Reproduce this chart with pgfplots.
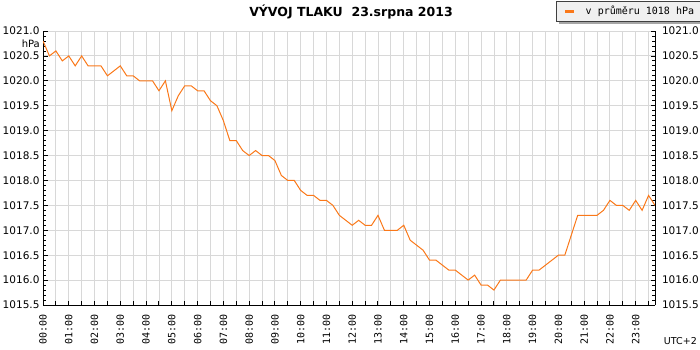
\documentclass[border=0pt]{standalone}
\usepackage{fontspec}
\setmainfont{DejaVu Sans}
\newfontfamily\mono{DejaVu Sans Mono}
\usepackage{pgfplots}
\usepackage{pgfplotstable}
\pgfplotsset{compat=1.18}
\definecolor{lineor}{RGB}{250,120,25}
\definecolor{gridc}{RGB}{216,216,216}
\definecolor{legbg}{RGB}{240,240,240}
\pgfplotstableread{
h p
0.00 1020.8
0.25 1020.5
0.50 1020.6
0.75 1020.4
1.00 1020.5
1.25 1020.3
1.50 1020.5
1.75 1020.3
2.00 1020.3
2.25 1020.3
2.50 1020.1
2.75 1020.2
3.00 1020.3
3.25 1020.1
3.50 1020.1
3.75 1020.0
4.00 1020.0
4.25 1020.0
4.50 1019.8
4.75 1020.0
5.00 1019.4
5.25 1019.7
5.50 1019.9
5.75 1019.9
6.00 1019.8
6.25 1019.8
6.50 1019.6
6.75 1019.5
7.00 1019.2
7.25 1018.8
7.50 1018.8
7.75 1018.6
8.00 1018.5
8.25 1018.6
8.50 1018.5
8.75 1018.5
9.00 1018.4
9.25 1018.1
9.50 1018.0
9.75 1018.0
10.00 1017.8
10.25 1017.7
10.50 1017.7
10.75 1017.6
11.00 1017.6
11.25 1017.5
11.50 1017.3
11.75 1017.2
12.00 1017.1
12.25 1017.2
12.50 1017.1
12.75 1017.1
13.00 1017.3
13.25 1017.0
13.50 1017.0
13.75 1017.0
14.00 1017.1
14.25 1016.8
14.50 1016.7
14.75 1016.6
15.00 1016.4
15.25 1016.4
15.50 1016.3
15.75 1016.2
16.00 1016.2
16.25 1016.1
16.50 1016.0
16.75 1016.1
17.00 1015.9
17.25 1015.9
17.50 1015.8
17.75 1016.0
18.00 1016.0
18.25 1016.0
18.50 1016.0
18.75 1016.0
19.00 1016.2
19.25 1016.2
19.50 1016.3
19.75 1016.4
20.00 1016.5
20.25 1016.5
20.50 1016.9
20.75 1017.3
21.00 1017.3
21.25 1017.3
21.50 1017.3
21.75 1017.4
22.00 1017.6
22.25 1017.5
22.50 1017.5
22.75 1017.4
23.00 1017.6
23.25 1017.4
23.50 1017.7
23.75 1017.5
}\datatable
\begin{document}
\begin{tikzpicture}
\useasboundingbox (0,0) rectangle (700bp,350bp);
\begin{axis}[
  at={(43bp,45bp)}, anchor=south west,
  scale only axis, width=612bp, height=274bp,
  xmin=0, xmax=23.75, ymin=1015.5, ymax=1021,
  axis x line*=bottom, axis y line*=box,
  axis line style={black, line width=1bp},
  xtick={0,0.5,1,1.5,2,2.5,3,3.5,4,4.5,5,5.5,6,6.5,7,7.5,8,8.5,9,9.5,10,10.5,11,11.5,12,12.5,13,13.5,14,14.5,15,15.5,16,16.5,17,17.5,18,18.5,19,19.5,20,20.5,21,21.5,22,22.5,23,23.5},
  xticklabels={00:00,{},01:00,{},02:00,{},03:00,{},04:00,{},05:00,{},06:00,{},07:00,{},08:00,{},09:00,{},10:00,{},11:00,{},12:00,{},13:00,{},14:00,{},15:00,{},16:00,{},17:00,{},18:00,{},19:00,{},20:00,{},21:00,{},22:00,{},23:00,{}},
  xticklabel style={yshift=-6bp, rotate=90, anchor=east, font=\mono\fontsize{10bp}{12bp}\selectfont},
  ytick={1015.5,1016,1016.5,1017,1017.5,1018,1018.5,1019,1019.5,1020,1020.5,1021},
  minor y tick num=4,
  scaled y ticks=false,
  yticklabel style={/pgf/number format/.cd, fixed, fixed zerofill, precision=1, 1000 sep={}, assume math mode=true, /tikz/.cd, font=\fontsize{10.5bp}{12bp}\selectfont},
  grid=major, major grid style={gridc, line width=0.9bp},
  tick align=inside,
  tick style={black, line width=0.8bp},
  x tick style={black, line width=1bp},
  major tick length=4.5bp, minor tick length=3bp,
  legend style={name=legnode, at={(1.074,1.1095)}, anchor=north east, draw=black!75, fill=legbg,
    font=\mono\fontsize{10bp}{12bp}\selectfont, inner xsep=4bp, inner ysep=3bp},
  legend image code/.code={\fill[draw=none, fill=legbg] (-5bp,-0.1bp) rectangle (0bp,0.1bp); \fill[draw=none, fill=lineor] (0bp,-1.3bp) rectangle (9bp,1.3bp);},
]
\addplot[lineor, line width=1bp, mark=none] table[x=h, y=p]{\datatable};
\addlegendentry{\hspace{10bp}v průměru 1018 hPa}
\end{axis}
\begin{axis}[
  at={(43bp,45bp)}, anchor=south west,
  scale only axis, width=612bp, height=274bp,
  xmin=0, xmax=23.75, ymin=1015.5, ymax=1021,
  axis x line=none, axis y line*=right,
  axis line style={black, line width=1bp},
  ytick={1015.5,1016,1016.5,1017,1017.5,1018,1018.5,1019,1019.5,1020,1020.5,1021},
  ytick style={draw=none},
  scaled y ticks=false,
  yticklabel style={xshift=3.5bp, /pgf/number format/.cd, fixed, fixed zerofill, precision=1, 1000 sep={}, assume math mode=true, /tikz/.cd, font=\fontsize{10.5bp}{12bp}\selectfont},
]
\end{axis}
\fill[black!35] ([xshift=0.5bp,yshift=-2.5bp]legnode.north east) rectangle ([xshift=3bp,yshift=-3bp]legnode.south east);
\fill[black!35] ([xshift=3bp,yshift=-0.5bp]legnode.south west) rectangle ([xshift=3bp,yshift=-3bp]legnode.south east);
\node[font=\bfseries\fontsize{12.5bp}{14bp}\selectfont] at (351bp,338bp) {VÝVOJ TLAKU\ \ 23.srpna 2013};
\node[anchor=east, inner sep=0pt, font=\fontsize{10bp}{12bp}\selectfont] at (40bp,306bp) {hPa};
\node[anchor=east, inner sep=0pt, font=\fontsize{9.5bp}{11bp}\selectfont] at (697bp,9bp) {UTC+2};
\end{tikzpicture}
\end{document}
